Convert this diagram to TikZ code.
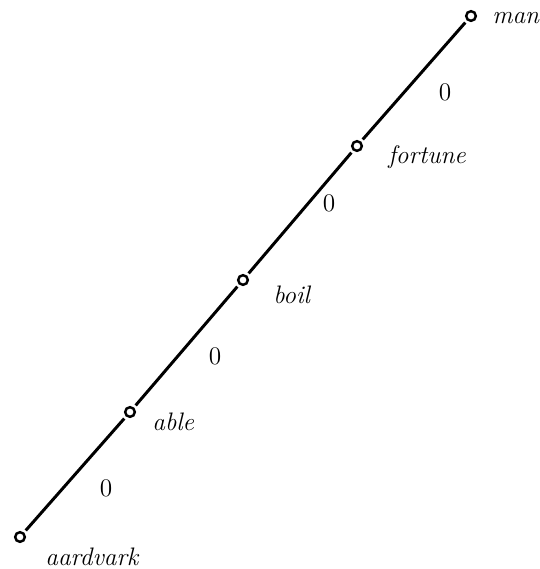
\documentclass[tikz,border=0pt]{standalone}
\usepackage{tikz}
\usetikzlibrary{positioning}

\begin{document}
\begin{tikzpicture}[x=0.02cm, y=-0.02cm,
        vertex/.style={draw, circle, line width=1.4pt, inner sep=0pt, minimum size=5.5pt, fill=white},
        word/.style={font=\Large\itshape, anchor=west, inner sep=0pt},
        weight/.style={font=\Large, inner sep=0pt},
        edge/.style={line width=1.7pt, shorten <=1.5pt, shorten >=1.5pt}
    ]
        \useasboundingbox (0,0) rectangle (539,569);

        \node[vertex] (aardvark) at (20,537) {};
        \node[vertex] (able) at (130,412) {};
        \node[vertex] (boil) at (243,280) {};
        \node[vertex] (fortune) at (357,146) {};
        \node[vertex] (man) at (471,16) {};

        \draw[edge] (aardvark) -- (able);
        \draw[edge] (able) -- (boil);
        \draw[edge] (boil) -- (fortune);
        \draw[edge] (fortune) -- (man);

        \node[word] (aardvarktext) at (45,557) {aardvark};
        \node[word] (abletext) at (152,422) {able};
        \node[word] (boiltext) at (273,295) {boil};
        \node[word] (fortunetext) at (388,157) {fortune};
        \node[word] (mantext) at (492,18) {man};

        \node[weight] (w1) at (106,488) {0};
        \node[weight] (w2) at (215,356) {0};
        \node[weight] (w3) at (329,203) {0};
        \node[weight] (w4) at (445,92) {0};
    \end{tikzpicture}
\end{document}
